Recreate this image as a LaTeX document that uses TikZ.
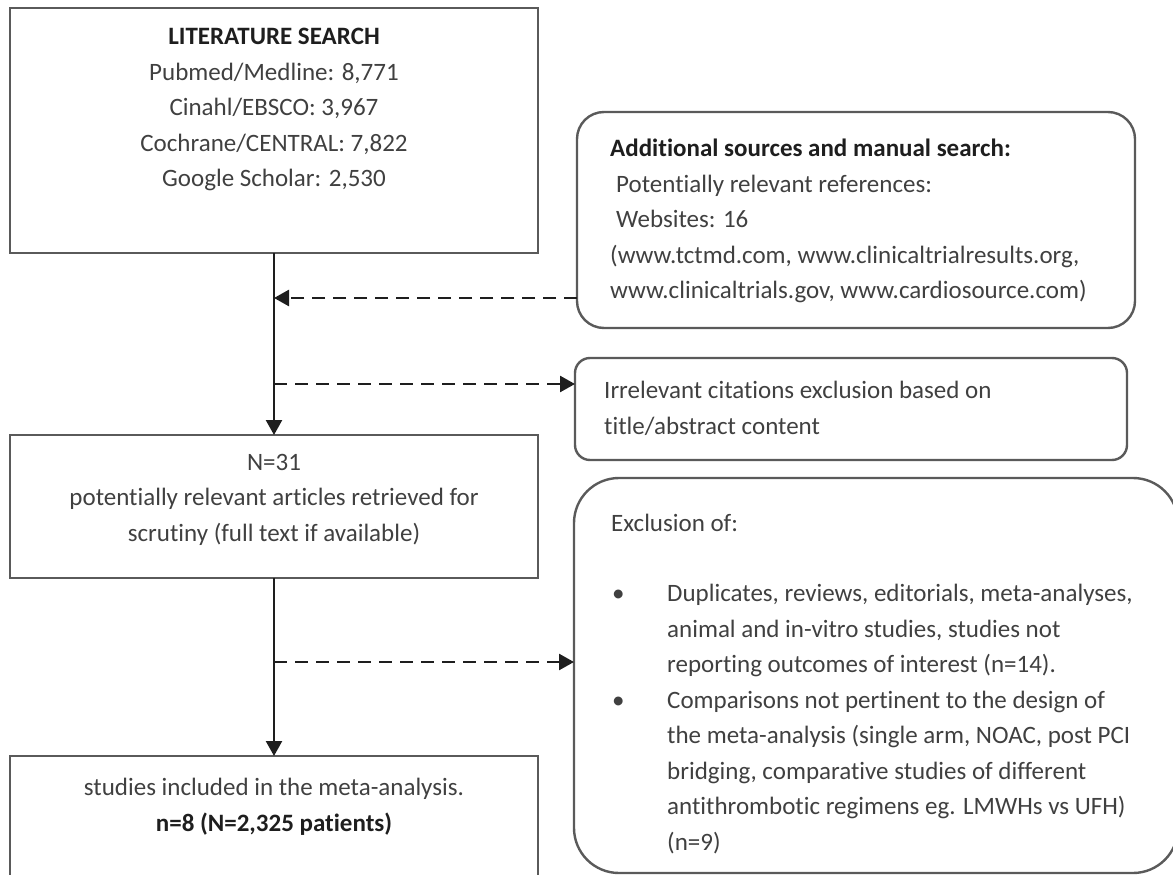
\documentclass[tikz,border=0pt]{standalone}
\usepackage{fontspec}
\setmainfont{Carlito}[Ligatures={NoCommon}]
\usetikzlibrary{arrows.meta}
\definecolor{txtc}{HTML}{404040}
\definecolor{headc}{HTML}{1E1E1E}
\definecolor{boxc}{HTML}{5A5A5A}
\definecolor{arrc}{HTML}{1E1E1E}
\begin{document}
\begin{tikzpicture}[x=1pt,y=-1pt,
  box/.style={draw=boxc, line width=2.4pt, inner sep=0pt, outer sep=0pt, anchor=north west},
  txtn/.style={inner sep=0pt, text=txtc, font=\fontsize{25}{35.5}\selectfont},
  arr/.style={draw=arrc, line width=2.3pt, -{Triangle[length=15pt,width=16pt]}},
  dasharr/.style={arr, line width=2.6pt, dash pattern=on 13pt off 8pt}]
\useasboundingbox (0,0) rectangle (1173,875);
\clip (0,0) rectangle (1173,875);
% boxes
\node[box, minimum width=528pt, minimum height=245pt] (b1) at (10,8) {};
\node[box, minimum width=558pt, minimum height=216pt, rounded corners=27pt] (b2) at (577,112) {};
\node[box, minimum width=552pt, minimum height=102pt, rounded corners=15pt] (b3) at (575,358) {};
\node[box, minimum width=528pt, minimum height=143pt] (n31) at (10,435) {};
\node[box, minimum width=528pt, minimum height=130pt] (b4) at (10,756) {};
\node[box, minimum width=604pt, minimum height=395pt, rounded corners=45pt] (b5) at (574,478) {};
% texts
\node[txtn, anchor=north, align=center] (t1) at (274,28)
  {\textcolor{headc}{\textbf{LITERATURE SEARCH}}\\
   Pubmed/Medline: 8,771\\
   Cinahl/EBSCO: 3,967\\
   Cochrane/CENTRAL: 7,822\\
   Google Scholar: 2,530};
\node[txtn, anchor=north west, align=left] (t2) at (610,139)
  {\textcolor{headc}{\textbf{Additional sources and manual search:}}\\
   \hspace*{6pt}Potentially relevant references:\\
   \hspace*{6pt}Websites: 16\\
   (www.tctmd.com, www.clinicaltrialresults.org,\\
   www.clinicaltrials.gov, www.cardiosource.com)};
\node[txtn, anchor=north west, align=left] (t3) at (604,381)
  {Irrelevant citations exclusion based on\\
   title/abstract content};
\node[txtn, anchor=north, align=center] (t4) at (274,454)
  {N=31\\
   potentially relevant articles retrieved for\\
   scrutiny (full text if available)};
\node[txtn, anchor=north, align=center] (t5) at (274,778)
  {studies included in the meta-analysis.\\
   \textcolor{headc}{\textbf{n=8 (N=2,325 patients)}}};
\node[txtn, anchor=north west, align=left] (t6) at (611,514)
  {Exclusion of:};
\node[txtn, anchor=north west, align=left] (t7) at (612,584)
  {\makebox[55pt][l]{\textbullet}Duplicates, reviews, editorials, meta-analyses,\\
   \hspace*{55pt}animal and in-vitro studies, studies not\\
   \hspace*{55pt}reporting outcomes of interest (n=14).\\
   \makebox[55pt][l]{\textbullet}Comparisons not pertinent to the design of\\
   \hspace*{55pt}the meta-analysis (single arm, NOAC, post PCI\\
   \hspace*{55pt}bridging, comparative studies of different\\
   \hspace*{55pt}antithrombotic regimens eg. LMWHs vs UFH)\\
   \hspace*{55pt}(n=9)};
% connectors
\coordinate (j1) at (274,298);
\coordinate (j2) at (274,384);
\coordinate (j3) at (274,662);
\draw[arr] (b1.south) -- (n31.north);
\draw[arr] (n31.south) -- (b4.north);
\draw[dasharr] (b2.west |- j1) -- (j1);
\draw[dasharr] (j2) -- (b3.west |- j2);
\draw[dasharr] (j3) -- (b5.west |- j3);
\end{tikzpicture}
\end{document}
